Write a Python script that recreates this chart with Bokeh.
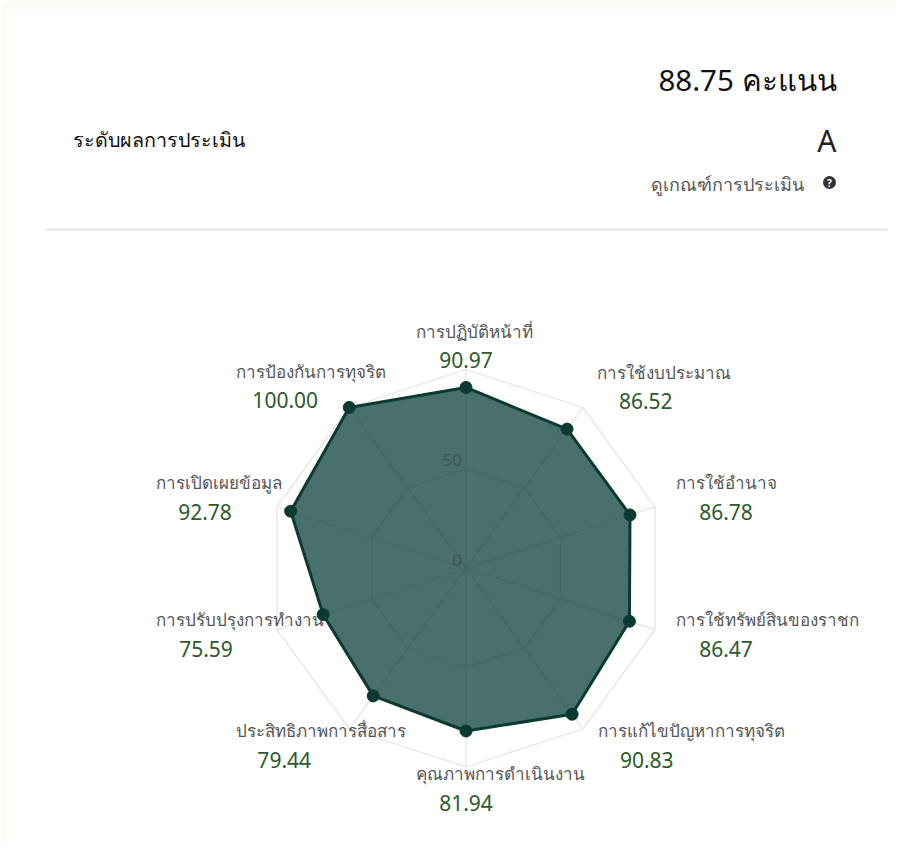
import math
from bokeh.plotting import figure
from bokeh.models import ColumnDataSource
from bokeh.core.properties import value
from bokeh.embed import file_html
from bokeh.resources import INLINE

categories = ["การปฏิบัติหน้าที่", "การใช้งบประมาณ", "การใช้อำนาจ", "การใช้ทรัพย์สินของราชก",
              "การแก้ไขปัญหาการทุจริต", "คุณภาพการดำเนินงาน", "ประสิทธิภาพการสื่อสาร",
              "การปรับปรุงการทำงาน", "การเปิดเผยข้อมูล", "การป้องกันการทุจริต"]
scores = [90.97, 86.52, 86.78, 86.47, 90.83, 81.94, 79.44, 75.59, 92.78, 100.00]
ring_levels = [50, 100]
ring_labels = ["0", "50"]
total_text = "88.75 คะแนน"
grade_text = "A"
level_title = "ระดับผลการประเมิน"
criteria_text = "ดูเกณฑ์การประเมิน"

# layout
W, H = 896, 842
SCALE = 1.987       # px per score unit
CX, CY = 465.5, 567.7
FONT = "Noto Sans"
name_dx = [-50, 14, 21, 21, 15, -50, -113, -121, -121, -113]
name_dy = [-38, -35, -24, -10, 2, 7, 2, -10, -24, -36]
val_dx = [0, 63, 71, 71, 64, 0, -65, -71, -72, -64]
val_dy = [-10, -6, 5, 19, 31, 36, 31, 19, 5, -7]

def px(X):
    return (X - CX) / SCALE
def py(Y):
    return (CY - Y) / SCALE

p = figure(width=W, height=H, output_backend="svg", toolbar_location=None,
           x_range=(px(0), px(W)), y_range=(py(H), py(0)),
           min_border=0, outline_line_color=None, background_fill_color="white",
           border_fill_color="white")
p.axis.visible = False
p.grid.visible = False

n = len(scores)
ang = [2 * math.pi * i / n for i in range(n)]
pol = lambda r, a: (r * math.sin(a), r * math.cos(a))

# faint strips at the page edge
p.quad(left=[px(0)], right=[px(5)], bottom=[py(H)], top=[py(0)], fill_color="#fdfdf4", line_color=None)
p.quad(left=[px(0)], right=[px(W)], bottom=[py(8)], top=[py(0)], fill_color="#fbfcf5", line_color=None)

# grid
GRID = "#e4e4e4"
for lv in ring_levels:
    xs = [pol(lv, a)[0] for a in ang] + [pol(lv, ang[0])[0]]
    ys = [pol(lv, a)[1] for a in ang] + [pol(lv, ang[0])[1]]
    p.line(xs, ys, line_color=GRID, line_width=1.2)
for a in ang:
    x, y = pol(100, a)
    p.line([0, x], [0, y], line_color=GRID, line_width=1.2)

# labels (below the filled area)
rim = [pol(100, a) for a in ang]
names = ColumnDataSource(dict(x=[r[0] for r in rim], y=[r[1] for r in rim], t=categories,
                              xo=name_dx, yo=name_dy))
p.text("x", "y", text="t", x_offset="xo", y_offset="yo", source=names, text_align="left",
       text_baseline="middle", text_font=value(FONT), text_font_size="17px", text_color="#555555")
vals = ColumnDataSource(dict(x=[r[0] for r in rim], y=[r[1] for r in rim],
                             t=[f"{s:.2f}" for s in scores], xo=val_dx, yo=val_dy))
p.text("x", "y", text="t", x_offset="xo", y_offset="yo", source=vals, text_align="center",
       text_baseline="middle", text_font=value(FONT), text_font_size="21px", text_color="#2e5a2c")

# radar
pts = [pol(s, a) for s, a in zip(scores, ang)]
xs = [q[0] for q in pts]
ys = [q[1] for q in pts]
p.patch(xs, ys, fill_color="#0a3e38", fill_alpha=0.74, line_color=None)
p.line(xs + xs[:1], ys + ys[:1], line_color="#0c3a32", line_width=3)
p.scatter(xs, ys, size=12, fill_color="#0c3a32", line_color="#0c3a32")

# ring value labels
p.text([0, 0], [0, 50], text=ring_labels, x_offset=[-4, -4], y_offset=[-8, -9], text_align="right",
       text_baseline="middle", text_font=value(FONT), text_font_size="17px", text_color="#3f5552")

# header
def hdr(X, Y, t, size, color, align):
    p.text([px(X)], [py(Y)], text=[t], text_align=align, text_baseline="middle",
           text_font=value(FONT), text_font_size=size, text_color=color)
hdr(836, 79, total_text, "29.5px", "#111111", "right")
hdr(836, 140, grade_text, "30px", "#222222", "right")
hdr(72, 139, level_title, "19.7px", "#111111", "left")
hdr(803, 183, criteria_text, "18px", "#555555", "right")
p.scatter([px(829)], [py(182)], size=13, fill_color="#333333", line_color=None)
p.text([px(829)], [py(182)], text=["?"], text_align="center", text_baseline="middle",
       text_font=value(FONT), text_font_size="10px", text_font_style="bold", text_color="white")
p.line([px(45), px(887)], [py(229), py(229)], line_color="#e6e8e9", line_width=2.5)

open("out.html", "w").write(file_html(p, INLINE))
